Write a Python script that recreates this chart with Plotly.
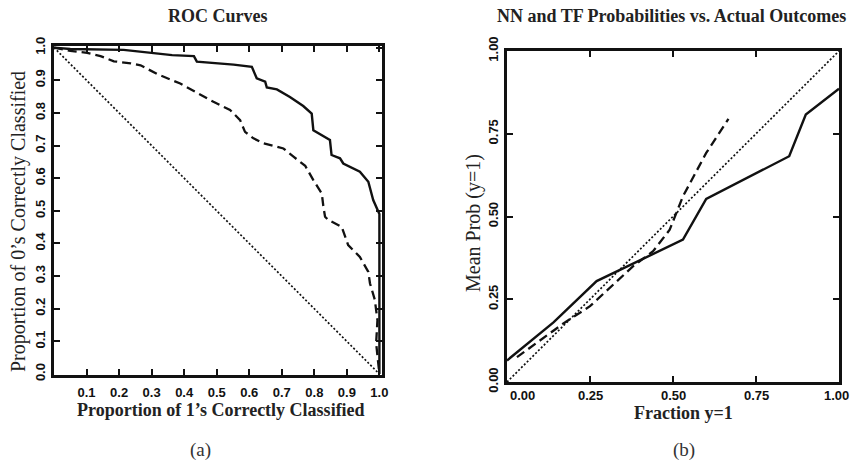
import plotly.graph_objects as go

# ---- Panel (a): ROC curves ----
roc_diag_x = [0.0, 1.0]
roc_diag_y = [1.0, 0.0]

roc_solid_x = [0.0, 0.05, 0.214, 0.297, 0.363, 0.43, 0.439, 0.552, 0.608, 0.623, 0.649, 0.654,
               0.685, 0.725, 0.766, 0.792, 0.797, 0.848, 0.853, 0.879, 0.889, 0.94, 0.966,
               0.981, 0.995, 1.0, 1.0]
roc_solid_y = [1.0, 0.996, 0.993, 0.984, 0.977, 0.974, 0.957, 0.948, 0.941, 0.906, 0.896, 0.878,
               0.872, 0.849, 0.821, 0.798, 0.747, 0.717, 0.671, 0.661, 0.645, 0.62, 0.589,
               0.533, 0.497, 0.49, 0.0]

roc_dash_x = [0.0, 0.05, 0.102, 0.143, 0.184, 0.236, 0.266, 0.317, 0.388, 0.424, 0.49, 0.541,
              0.572, 0.587, 0.613, 0.644, 0.705, 0.736, 0.772, 0.797, 0.823, 0.828, 0.833,
              0.843, 0.884, 0.904, 0.94, 0.966, 0.971, 0.986, 0.994, 0.99, 1.0]
roc_dash_y = [1.0, 0.99, 0.984, 0.974, 0.958, 0.952, 0.946, 0.919, 0.89, 0.87, 0.834, 0.809,
              0.778, 0.742, 0.722, 0.707, 0.691, 0.666, 0.638, 0.594, 0.553, 0.512, 0.482,
              0.472, 0.451, 0.395, 0.359, 0.313, 0.278, 0.227, 0.165, 0.094, 0.0]

roc_xticks = [0.1, 0.2, 0.3, 0.4, 0.5, 0.6, 0.7, 0.8, 0.9, 1.0]
roc_yticks = [0.0, 0.1, 0.2, 0.3, 0.4, 0.5, 0.6, 0.7, 0.8, 0.9, 1.0]

# ---- Panel (b): calibration ----
cal_diag_x = [0.0, 1.0]
cal_diag_y = [0.0, 1.0]

cal_solid_x = [0.0, 0.14, 0.27, 0.53, 0.60, 0.85, 0.90, 1.0]
cal_solid_y = [0.065, 0.18, 0.305, 0.43, 0.553, 0.682, 0.808, 0.886]

cal_dash_x = [0.03, 0.17, 0.25, 0.31, 0.38, 0.44, 0.49, 0.53, 0.60, 0.667]
cal_dash_y = [0.075, 0.177, 0.229, 0.285, 0.35, 0.395, 0.46, 0.561, 0.692, 0.795]

cal_ticks = [0.0, 0.25, 0.5, 0.75, 1.0]
cal_ticklabels = ["0.00", "0.25", "0.50", "0.75", "1.00"]

W, H = 853, 466
fig = go.Figure()

line_col = "#111111"
dot_style = "2px,2px"
dash_style = "9px,5px"
fig.add_trace(go.Scatter(x=roc_diag_x, y=roc_diag_y, mode="lines",
                         line=dict(color=line_col, width=1.7, dash=dot_style), xaxis="x", yaxis="y"))
fig.add_trace(go.Scatter(x=roc_dash_x, y=roc_dash_y, mode="lines",
                         line=dict(color=line_col, width=2.3, dash=dash_style), xaxis="x", yaxis="y"))
fig.add_trace(go.Scatter(x=roc_solid_x, y=roc_solid_y, mode="lines",
                         line=dict(color=line_col, width=2.4), xaxis="x", yaxis="y"))

fig.add_trace(go.Scatter(x=cal_diag_x, y=cal_diag_y, mode="lines",
                         line=dict(color=line_col, width=1.7, dash=dot_style), xaxis="x2", yaxis="y2"))
fig.add_trace(go.Scatter(x=cal_dash_x, y=cal_dash_y, mode="lines",
                         line=dict(color=line_col, width=2.3, dash=dash_style), xaxis="x2", yaxis="y2"))
fig.add_trace(go.Scatter(x=cal_solid_x, y=cal_solid_y, mode="lines",
                         line=dict(color=line_col, width=2.4), xaxis="x2", yaxis="y2"))

tickfont = dict(family="Liberation Sans", size=13, color="#111", weight="bold")
serif_b = dict(family="Liberation Serif", size=18, color="#222", weight="bold")
serif_r = dict(family="Liberation Serif", size=20, color="#222")

axis_common = dict(showline=True, linewidth=3, linecolor="#111", mirror="allticks",
                   ticks="inside", ticklen=6, tickwidth=2, tickcolor="#111",
                   showgrid=False, zeroline=False, tickfont=tickfont, fixedrange=True,
                   automargin=False)

def px(x):
    return x / W

def py(y):
    return 1 - y / H

fig.update_layout(
    template="none",
    width=W, height=H, margin=dict(l=0, r=0, t=0, b=0, pad=0),
    paper_bgcolor="white", plot_bgcolor="white", showlegend=False,
    xaxis=dict(domain=[px(54), px(382)], range=[0, 1.008], tickvals=roc_xticks,
               ticktext=[f"{v:.1f}" for v in roc_xticks], anchor="y", ticklabelstandoff=3,
               **axis_common),
    yaxis=dict(domain=[py(375), py(46)], range=[-0.003, 1.005], tickvals=roc_yticks,
               ticktext=[f"{v:.1f}" for v in roc_yticks], anchor="x", tickangle=-90,
               ticklabelstandoff=1, **axis_common),
    xaxis2=dict(domain=[px(507), px(839)], range=[0, 1], tickvals=cal_ticks,
                showticklabels=False, anchor="y2", **axis_common),
    yaxis2=dict(domain=[py(382), py(51)], range=[0, 1], tickvals=cal_ticks,
                ticktext=cal_ticklabels, anchor="x2", tickangle=-90, ticklabelstandoff=1,
                **axis_common),
)

ann = []
def text(x, y, t, font, angle=0):
    ann.append(dict(x=px(x), y=py(y), xref="paper", yref="paper", text=t, showarrow=False,
                    font=font, textangle=angle, xanchor="center", yanchor="middle"))

# x tick labels of panel (b), nudged inward at the ends as in the original
shifts = [15, 0, 0, 0, -3]
for v, lab, s in zip(cal_ticks, cal_ticklabels, shifts):
    ann.append(dict(x=v, y=py(395), xref="x2", yref="paper", text=lab, showarrow=False,
                    font=tickfont, xanchor="center", yanchor="middle", xshift=s))

text(218, 16, "ROC Curves", serif_b)
text(671, 16, "NN and TF Probabilities vs. Actual Outcomes", serif_b)
text(221, 410, "Proportion of 1\u2019s Correctly Classified", serif_b)
text(683, 413, "Fraction y=1", serif_b)
text(18, 222, "Proportion of 0\u2019s Correctly Classified", serif_r, -90)
text(473, 223, "Mean Prob (y=1)", serif_r, -90)
text(200, 450, "(a)", dict(family="Liberation Serif", size=19, color="#333"))
text(684, 450, "(b)", dict(family="Liberation Serif", size=19, color="#333"))
fig.update_layout(annotations=ann)

fig.write_html("out.html", config={"displayModeBar": False},
               post_script="document.body.style.margin='0';document.body.style.overflow='hidden';")
